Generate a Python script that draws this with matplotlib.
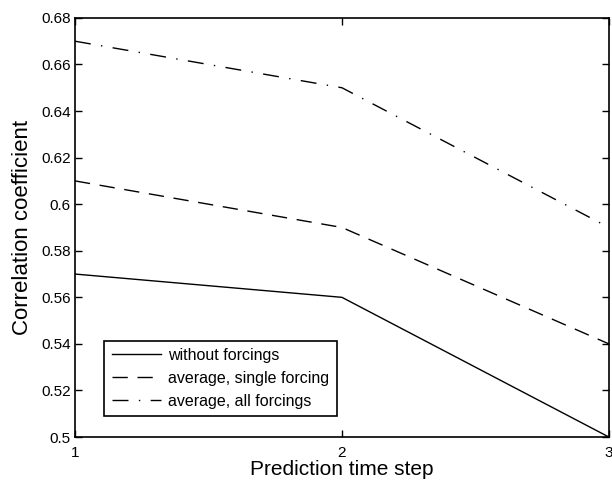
import matplotlib
matplotlib.use("Agg")
import matplotlib.pyplot as plt

plt.rcParams['font.family'] = ['Liberation Sans', 'DejaVu Sans']

steps = [1, 2, 3]
without_forcings = [0.57, 0.56, 0.50]
single_forcing = [0.61, 0.59, 0.54]
all_forcings = [0.67, 0.65, 0.59]
labels = ["without forcings", "average, single forcing", "average, all forcings"]
yticks = [0.5, 0.52, 0.54, 0.56, 0.58, 0.6, 0.62, 0.64, 0.66, 0.68]
yticklabels = ["0.5", "0.52", "0.54", "0.56", "0.58", "0.6", "0.62", "0.64", "0.66", "0.68"]

fig = plt.figure(figsize=(6.12, 4.84), dpi=100)
ax = fig.add_axes([0.1225, 0.097, 0.8725, 0.866])

ax.plot(steps, without_forcings, color="black", lw=1.0, label=labels[0])
ax.plot(steps, single_forcing, color="black", lw=1.0, dashes=(11, 7), label=labels[1])
ax.plot(steps, all_forcings, color="black", lw=1.0, dashes=(11.5, 7.5, 1, 7.5), label=labels[2])

ax.set_xlim(1, 3)
ax.set_ylim(0.5, 0.68)
ax.set_xticks(steps)
ax.set_yticks(yticks)
ax.set_yticklabels(yticklabels)
ax.tick_params(direction="in", top=True, right=True, length=5, width=1, labelsize=11, pad=3)
ax.tick_params(axis="x", pad=6.5)
for s in ax.spines.values():
    s.set_linewidth(1.2)

ax.set_xlabel("Prediction time step", fontsize=15, labelpad=0)
ax.set_ylabel("Correlation coefficient", fontsize=16, labelpad=6)

leg = ax.legend(loc="lower left", bbox_to_anchor=(0.055, 0.05), fontsize=11.5,
                handlelength=3.1, handletextpad=0.45, borderpad=0.45, labelspacing=0.5,
                borderaxespad=0, fancybox=False, framealpha=1)
leg.get_frame().set_edgecolor("black")
leg.get_frame().set_linewidth(1.2)

fig.savefig("out.png", dpi=100)
